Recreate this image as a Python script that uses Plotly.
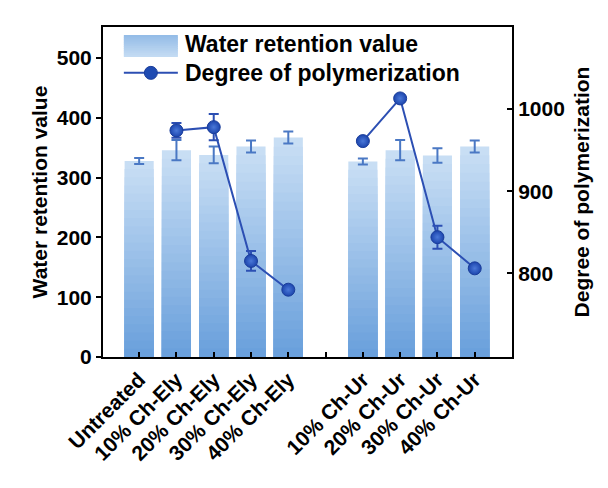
import plotly.graph_objects as go

categories = ["Untreated", "10% Ch-Ely", "20% Ch-Ely", "30% Ch-Ely", "40% Ch-Ely", " ",
              "10% Ch-Ur", "20% Ch-Ur", "30% Ch-Ur", "40% Ch-Ur"]
wrv = [328, 346, 338, 352, 367, None, 327, 346, 337, 352]
wrv_err = [5, 17, 14, 10, 10, None, 5, 17, 12, 10]
dp = [None, 974, 978, 815, 780, None, 961, 1013, 844, 806]
dp_err = [None, 9, 16, 12, 0, None, 0, 0, 14, 0]

FONT = "Liberation Sans, Arial, sans-serif"
light = (200, 222, 244)
dark = (106, 160, 220)
N = 24

def mix(t):
    return "rgb(%d,%d,%d)" % tuple(round(light[k] + (dark[k] - light[k]) * t) for k in range(3))

fig = go.Figure()
for i in range(N):
    frac = 1 - i / N
    fig.add_trace(go.Bar(
        x=categories, y=[v * frac if v is not None else None for v in wrv],
        marker=dict(color=mix(i / (N - 1)), line=dict(width=0)),
        width=0.78, showlegend=False, name="Water retention value", hoverinfo="skip"))

fig.add_trace(go.Bar(
    x=categories, y=wrv, width=0.78, showlegend=False, name="Water retention value",
    marker=dict(color="rgba(0,0,0,0)", line=dict(width=0)),
    error_y=dict(type="data", array=wrv_err, color="#4a78c4", thickness=2, width=5)))

fig.add_trace(go.Scatter(
    x=categories, y=dp, yaxis="y2", mode="lines+markers", name="Degree of polymerization",
    connectgaps=False, showlegend=False,
    line=dict(color="#2c4fb3", width=2),
    marker=dict(size=13, color="#1c45ad", line=dict(color="#1a3d9a", width=1),
                gradient=dict(type="radial", color="#4a78d8")),
    error_y=dict(type="data", array=dp_err, color="#2c4fb3", thickness=2, width=5)))

# custom legend (large swatch like the original)
shapes = []
x0, x1 = 0.051, 0.183
yt, yb = 0.976, 0.909
M = 12
for j in range(M):
    shapes.append(dict(type="rect", xref="paper", yref="paper",
                       x0=x0, x1=x1,
                       y0=max(yb, yt - (yt - yb) * (j + 1.6) / M), y1=yt - (yt - yb) * j / M,
                       fillcolor=mix(0.55 - 0.5 * j / (M - 1)), line=dict(width=0), layer="above"))
ly = 0.861
shapes.append(dict(type="line", xref="paper", yref="paper", x0=x0, x1=x1, y0=ly, y1=ly,
                   line=dict(color="#2c4fb3", width=2), layer="above"))
cx, rx, ry = (x0 + x1) / 2, 6.5 / 409, 6.5 / 330
shapes.append(dict(type="circle", xref="paper", yref="paper", x0=cx - rx, x1=cx + rx,
                   y0=ly - ry, y1=ly + ry, fillcolor="#1f4bb2",
                   line=dict(color="#1a3d9a", width=1), layer="above"))

annotations = [
    dict(text="<b>Water retention value</b>", xref="paper", yref="paper", x=0.196, y=0.948,
         xanchor="left", yanchor="middle", showarrow=False,
         font=dict(family=FONT, size=23, color="black")),
    dict(text="<b>Degree of polymerization</b>", xref="paper", yref="paper", x=0.196, y=ly,
         xanchor="left", yanchor="middle", showarrow=False,
         font=dict(family=FONT, size=23, color="black")),
]

axis_common = dict(showline=True, linecolor="black", linewidth=2,
                   tickfont=dict(family=FONT, size=21, color="black", weight="bold"),
                   showgrid=False, zeroline=False, ticklen=5, tickwidth=1.5, tickcolor="black")

fig.update_layout(
    width=608, height=488,
    margin=dict(l=103, r=96, t=27, b=131),
    paper_bgcolor="white", plot_bgcolor="white",
    barmode="overlay",
    font=dict(family=FONT, size=18, color="black"),
    xaxis=dict(axis_common, type="category", range=[-0.97, 10.0], ticks="inside",
               tickangle=-45, mirror=True),
    yaxis=dict(axis_common, range=[0, 552], tickvals=[0, 100, 200, 300, 400, 500],
               ticks="outside", mirror=True,
               title=dict(text="<b>Water retention value</b>", standoff=3,
                          font=dict(family=FONT, size=21))),
    yaxis2=dict(axis_common, overlaying="y", side="right", range=[698, 1100],
                tickvals=[800, 900, 1000], ticks="inside",
                title=dict(text="<b>Degree of polymerization</b>", standoff=10,
                           font=dict(family=FONT, size=21))),
    shapes=shapes,
    annotations=annotations,
    showlegend=False,
)

fig.write_html("out.html")
